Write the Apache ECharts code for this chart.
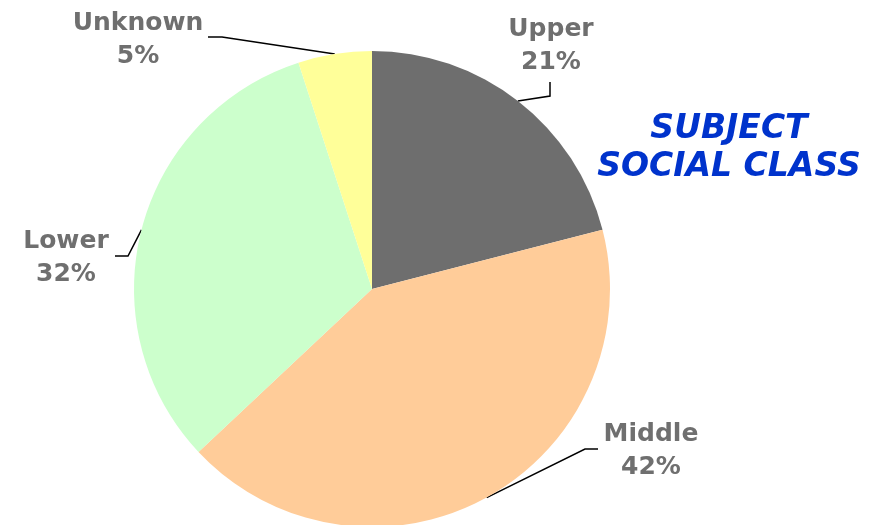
<!DOCTYPE html>
<html>
<head>
<meta charset="utf-8">
<script src="https://cdn.jsdelivr.net/npm/echarts@6/dist/echarts.min.js"></script>
<style>html,body{margin:0;padding:0;background:#fff;}#c{width:872px;height:525px;}</style>
</head>
<body>
<div id="c"></div>
<script>
const categories = ['Upper', 'Middle', 'Lower', 'Unknown'];
const values = [21, 42, 32, 5];
const colors = ['#6e6e6e', '#ffcc99', '#ccffcc', '#ffff99'];
const titleLines = ['SUBJECT', 'SOCIAL CLASS'];

// label anchor (center of text block) and label line bend/end points
const labelPlace = [
  { x: 551, y: 46, line: [[550, 96], [550, 82]] },
  { x: 651, y: 451, line: [[585, 449], [598, 449]] },
  { x: 66, y: 258, line: [[128, 256], [115, 256]] },
  { x: 138, y: 40, line: [[222, 37], [208, 37]] }
];

const chart = echarts.init(document.getElementById('c'), null, { renderer: 'canvas' });
chart.setOption({
  animation: false,
  backgroundColor: '#ffffff',
  title: {
    text: titleLines.join('\n'),
    left: 724,
    top: 105,
    textAlign: 'center',
    textStyle: {
      color: '#0033cc',
      fontFamily: 'DejaVu Sans',
      fontWeight: 'bold',
      fontStyle: 'italic',
      fontSize: 33,
      lineHeight: 38
    }
  },
  series: [{
    type: 'pie',
    center: [372, 289],
    radius: 238,
    startAngle: 90,
    clockwise: true,
    data: categories.map((c, i) => ({ name: c, value: values[i], itemStyle: { color: colors[i] } })),
    label: {
      show: true,
      formatter: p => p.name + '\n' + p.value + '%',
      color: '#6f6f6f',
      fontFamily: 'DejaVu Sans',
      fontWeight: 'bold',
      fontSize: 25,
      lineHeight: 33,
      align: 'center'
    },
    labelLine: {
      show: true,
      length: 20,
      length2: 10,
      lineStyle: { color: '#000000', width: 1.5 }
    },
    labelLayout: function (params) {
      const lp = labelPlace[params.dataIndex];
      const start = params.labelLinePoints ? params.labelLinePoints[0] : null;
      const pts = start ? [start, lp.line[0], lp.line[1]] : undefined;
      return {
        x: lp.x,
        y: lp.y,
        align: 'center',
        verticalAlign: 'middle',
        labelLinePoints: pts
      };
    },
    emphasis: { disabled: true }
  }]
});
</script>
</body>
</html>
